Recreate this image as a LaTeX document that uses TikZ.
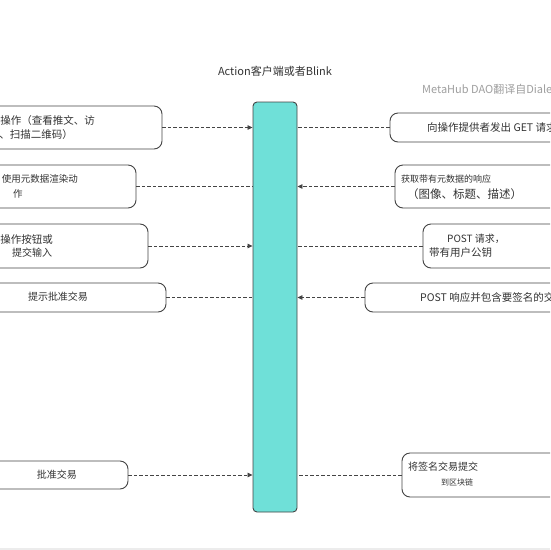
\documentclass[tikz,border=0pt]{standalone}
\usepackage{fontspec}
\setmainfont{Noto Sans CJK SC}
\usetikzlibrary{arrows.meta}
\definecolor{barfill}{HTML}{6FE0D8}
\definecolor{edge}{HTML}{444444}
\definecolor{txt}{HTML}{333333}
\tikzset{
  box/.style={draw=edge, line width=0.9pt, rounded corners=8pt, fill=white, inner sep=0pt},
  conn/.style={draw=edge, line width=0.8pt, dash pattern=on 3.5pt off 2pt},
  arr/.style={conn, -{Triangle[length=5pt,width=4.5pt]}},
  lbl/.style={text=txt, inner sep=0pt, font=\fontsize{10}{12}\selectfont},
}
\newcommand{\boxat}[5]{\node[box, minimum width={#3-#2}, minimum height={#5-#4}] (#1) at ({(#2+#3)/2},{(#4+#5)/2}) {};}
\begin{document}
\begin{tikzpicture}[x=1pt,y=-1pt]
\useasboundingbox (0,0) rectangle (550,550);
\clip (0,0) rectangle (550,550);
\fill[white] (0,0) rectangle (550,550);
\fill[gray!15] (0,548) rectangle (550,550);

% central bar
\node[draw=edge, line width=0.9pt, rounded corners=4pt, fill=barfill, minimum width=44pt, minimum height=410pt, inner sep=0pt] (bar) at (275,307) {};

% title and credit
\node[lbl, font=\fontsize{11}{13}\selectfont] (title) at (275,71) {Action客户端或者Blink};
\node[lbl, anchor=west, text=gray!75, font=\fontsize{11}{13}\selectfont] (credit) at (422,89) {MetaHub DAO翻译自Dialect};

% left boxes
\boxat{L1}{-20}{162}{106}{149}
\boxat{L2}{-20}{136}{165}{208}
\boxat{L3}{-20}{148}{224}{268}
\boxat{L4}{-20}{166}{283}{312}
\boxat{L5}{-20}{128}{461}{489}
% right boxes
\boxat{R1}{390}{580}{113}{142}
\boxat{R2}{395}{580}{165}{208}
\boxat{R3}{423}{580}{224}{268}
\boxat{R4}{365}{580}{283}{312}
\boxat{R5}{402}{580}{453}{497}

% texts
\node[lbl, anchor=east, font=\fontsize{10.5}{12}\selectfont] (t1a) at (95,121) {用户执行一个操作（查看推文、访};
\node[lbl, anchor=east, font=\fontsize{10.5}{12}\selectfont] (t1b) at (73,135) {问网站、扫描二维码）};
\node[lbl, anchor=east, font=\fontsize{9.5}{11}\selectfont] (t2a) at (78,179) {使用元数据渲染动};
\node[lbl, anchor=west, font=\fontsize{9.5}{11}\selectfont] (t2b) at (13,194) {作};
\node[lbl, anchor=east, font=\fontsize{10.5}{12}\selectfont] (t3a) at (53,239) {点击操作按钮或};
\node[lbl, anchor=west] (t3b) at (12,253) {提交输入};
\node[lbl] (t4) at (58,297) {提示批准交易};
\node[lbl] (t5) at (57,475) {批准交易};

\node[lbl, anchor=west, font=\fontsize{10.5}{12}\selectfont] (r1) at (427,127) {向操作提供者发出 GET 请求};
\node[lbl, anchor=west, font=\fontsize{9}{11}\selectfont] (r2a) at (401,179) {获取带有元数据的响应};
\node[lbl, anchor=west, font=\fontsize{11.5}{13}\selectfont] (r2b) at (407,194) {（图像、标题、描述）};
\node[lbl, anchor=west] (r3a) at (447,239) {POST 请求，};
\node[lbl, anchor=west, font=\fontsize{10.5}{12}\selectfont] (r3b) at (429,253) {带有用户公钥};
\node[lbl, anchor=west, font=\fontsize{10.5}{12}\selectfont] (r4) at (420,297) {POST 响应并包含要签名的交易};
\node[lbl, anchor=west] (r5a) at (408,467) {将签名交易提交};
\node[lbl, anchor=west, font=\fontsize{8}{10}\selectfont] (r5b) at (441,482) {到区块链};

% connectors
\draw[arr] (L1.east) -- (L1.east -| bar.west);
\draw[conn] (R1.west) -- (R1.west -| bar.east);
\draw[arr] (R2.west) -- (R2.west -| bar.east);
\draw[conn] (L2.east) -- (L2.east -| bar.west);
\draw[arr] (L3.east) -- (L3.east -| bar.west);
\draw[conn] (R3.west) -- (R3.west -| bar.east);
\draw[arr] (R4.west) -- (R4.west -| bar.east);
\draw[conn] (L4.east) -- (L4.east -| bar.west);
\draw[arr] (L5.east) -- (L5.east -| bar.west);
\draw[conn] (R5.west) -- (R5.west -| bar.east);
\end{tikzpicture}
\end{document}
